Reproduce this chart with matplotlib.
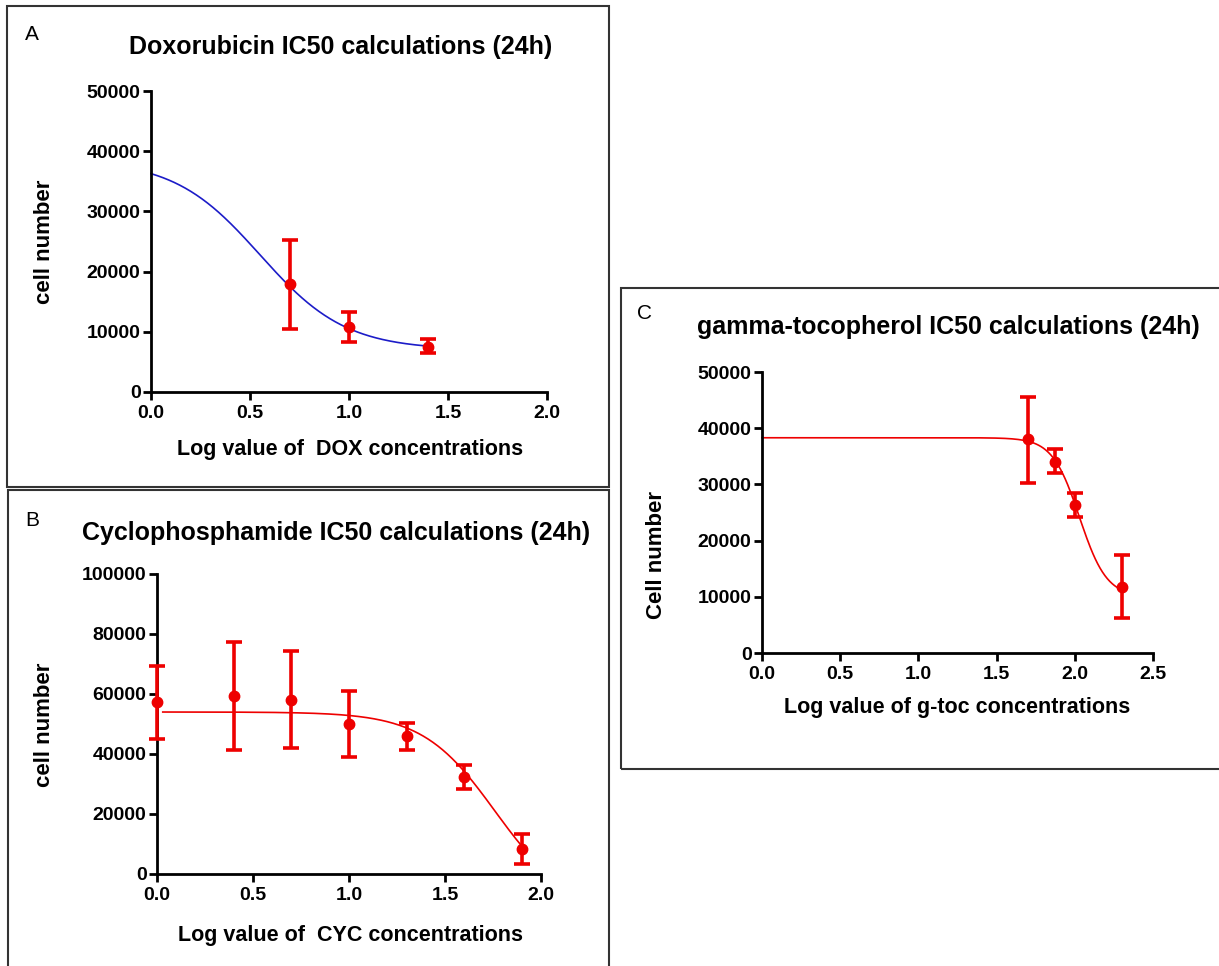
import matplotlib
matplotlib.use("Agg")
import matplotlib.pyplot as plt
from matplotlib.patches import Rectangle
import numpy as np

plt.rcParams['font.family'] = ['Liberation Sans', 'DejaVu Sans']

# ---- data ----
# A: doxorubicin
dox_x = [0.7, 1.0, 1.4]
dox_y = [18000, 10800, 7500]
dox_lo = [10500, 8300, 6500]
dox_hi = [25200, 13300, 8800]
dox_fit = dict(bottom=7000, top=38600, logic50=0.55, hill=2.0)

# B: cyclophosphamide
cyc_x = [0.0, 0.4, 0.7, 1.0, 1.3, 1.6, 1.9]
cyc_y = [57500, 59500, 58000, 50000, 46000, 32500, 8500]
cyc_lo = [45000, 41500, 42000, 39000, 41500, 28500, 3500]
cyc_hi = [69500, 77500, 74500, 61000, 50500, 36500, 13500]
cyc_fit = dict(bottom=-12000, top=54000, logic50=1.76, hill=2.3)

# C: gamma-tocopherol
gtoc_x = [1.7, 1.875, 2.0, 2.3]
gtoc_y = [38000, 34000, 26300, 11800]
gtoc_lo = [30300, 32000, 24200, 6200]
gtoc_hi = [45600, 36300, 28500, 17400]
gtoc_fit = dict(bottom=10000, top=38300, logic50=2.03, hill=5.0)

W, H = 1219, 966
fig = plt.figure(figsize=(W / 100, H / 100), dpi=100)


def px_rect(x0, y0, x1, y1):
    # pixel box (top-left origin) -> figure fraction [l, b, w, h]
    return [x0 / W, 1 - y1 / H, (x1 - x0) / W, (y1 - y0) / H]


def fx(x):
    return x / W


def fy(y):
    return 1 - y / H


def four_pl(x, bottom, top, logic50, hill):
    return bottom + (top - bottom) / (1 + 10 ** ((logic50 - x) * -hill))


def panel(rect, xs, ys, lo, hi, fit, xfit, fit_color, xmax, xstep, ymax, ystep):
    ax = fig.add_axes(rect)
    xc = np.linspace(xfit[0], xfit[1], 300)
    ax.plot(xc, four_pl(xc, **fit), color=fit_color, lw=1.2, clip_on=False, zorder=2)
    ys = np.array(ys)
    yerr = [ys - np.array(lo), np.array(hi) - ys]
    ax.errorbar(xs, ys, yerr=yerr, fmt='o', color='#ee0000', ms=7.5,
                elinewidth=2.6, capsize=6, capthick=2.6, clip_on=False, zorder=3)
    ax.set_xlim(0, xmax)
    ax.set_ylim(0, ymax)
    ax.set_xticks(np.arange(0, xmax + 1e-9, xstep))
    ax.set_yticks(np.arange(0, ymax + 1, ystep))
    ax.set_xticklabels([f"{v:.1f}" for v in ax.get_xticks()])
    ax.set_yticklabels([f"{int(v)}" for v in ax.get_yticks()])
    for s in ['top', 'right']:
        ax.spines[s].set_visible(False)
    for s in ['left', 'bottom']:
        ax.spines[s].set_linewidth(2)
    ax.tick_params(direction='out', length=6, width=2, labelsize=14)
    ax.tick_params(axis='y', pad=1.5)
    ax.tick_params(axis='x', pad=3.5)
    for lab in ax.get_xticklabels() + ax.get_yticklabels():
        lab.set_fontweight('bold')
    return ax


# panel boxes
for (x0, y0, x1, y1) in [(7, 6, 609, 487), (8, 490, 609, 975), (621, 288, 1230, 769)]:
    fig.add_artist(Rectangle((x0 / W, 1 - y1 / H), (x1 - x0) / W, (y1 - y0) / H,
                             transform=fig.transFigure, fill=False,
                             edgecolor='#333333', lw=1.5))

# A
panel(px_rect(151, 91, 547, 392), dox_x, dox_y, dox_lo, dox_hi, dox_fit,
      (0, 1.4), '#1c1cc8', 2.0, 0.5, 50000, 10000)
fig.text(fx(32), fy(35), 'A', fontsize=15, ha='center', va='center')
fig.text(fx(341), fy(47), 'Doxorubicin IC50 calculations (24h)', fontsize=18,
         fontweight='bold', ha='center', va='center')
fig.text(fx(350), fy(449), 'Log value of  DOX concentrations', fontsize=15.5,
         fontweight='bold', ha='center', va='center')
fig.text(fx(45), fy(242), 'cell number', fontsize=16, fontweight='bold',
         rotation=90, ha='center', va='center')

# B
panel(px_rect(157, 574, 541, 874), cyc_x, cyc_y, cyc_lo, cyc_hi, cyc_fit,
      (0.03, 1.9), '#ee0000', 2.0, 0.5, 100000, 20000)
fig.text(fx(32), fy(520), 'B', fontsize=15, ha='center', va='center')
fig.text(fx(336), fy(533), 'Cyclophosphamide IC50 calculations (24h)', fontsize=18,
         fontweight='bold', ha='center', va='center')
fig.text(fx(350), fy(935), 'Log value of  CYC concentrations', fontsize=15.5,
         fontweight='bold', ha='center', va='center')
fig.text(fx(45), fy(725), 'cell number', fontsize=16, fontweight='bold',
         rotation=90, ha='center', va='center')

# C
panel(px_rect(762, 372, 1153, 653), gtoc_x, gtoc_y, gtoc_lo, gtoc_hi, gtoc_fit,
      (0, 2.3), '#ee0000', 2.5, 0.5, 50000, 10000)
fig.text(fx(645), fy(313), 'C', fontsize=15, ha='center', va='center')
fig.text(fx(948), fy(327), 'gamma-tocopherol IC50 calculations (24h)', fontsize=18,
         fontweight='bold', ha='center', va='center')
fig.text(fx(957), fy(707), 'Log value of g-toc concentrations', fontsize=15.5,
         fontweight='bold', ha='center', va='center')
fig.text(fx(656), fy(555), 'Cell number', fontsize=16, fontweight='bold',
         rotation=90, ha='center', va='center')

fig.savefig('out.png', dpi=100)
